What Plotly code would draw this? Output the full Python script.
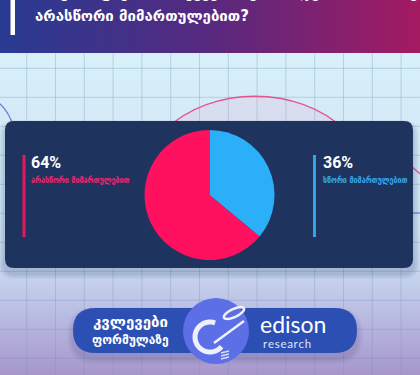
import base64
import numpy as np
import plotly.graph_objects as go

W, H = 420, 375

# ---------------- data ----------------
labels = ["სწორი მიმართულებით", "არასწორი მიმართულებით"]
values = [36, 64]
colors = ["#2aaff8", "#ff1160"]
title_lines = ["როგორ ფიქრობთ, ქვეყანა ვითარდება სწორი თუ",
               "არასწორი მიმართულებით?"]
logo_left = ["კვლევები", "ფორმულაზე"]
logo_right = ["edison", "research"]


def X(x):
    return x / W


def Y(y):
    return 1 - y / H


def rrect(x0, y0, x1, y1, r):
    p = f"M {X(x0 + r)} {Y(y0)} L {X(x1 - r)} {Y(y0)} "
    p += f"Q {X(x1)} {Y(y0)} {X(x1)} {Y(y0 + r)} L {X(x1)} {Y(y1 - r)} "
    p += f"Q {X(x1)} {Y(y1)} {X(x1 - r)} {Y(y1)} L {X(x0 + r)} {Y(y1)} "
    p += f"Q {X(x0)} {Y(y1)} {X(x0)} {Y(y1 - r)} L {X(x0)} {Y(y0 + r)} "
    p += f"Q {X(x0)} {Y(y0)} {X(x0 + r)} {Y(y0)} Z"
    return p


def poly(points, close=False):
    s = "M " + " L ".join(f"{X(a)} {Y(b)}" for a, b in points)
    return s + (" Z" if close else "")


svg = """<svg xmlns="http://www.w3.org/2000/svg" width="420" height="375" viewBox="0 0 420 375" preserveAspectRatio="none">
<defs>
<linearGradient id="bg" x1="0" y1="0" x2="0" y2="1">
<stop offset="0" stop-color="#d8f0fa"/>
<stop offset="0.55" stop-color="#cde2f2"/>
<stop offset="0.72" stop-color="#c3cfeb"/>
<stop offset="0.88" stop-color="#b3aedc"/>
<stop offset="1" stop-color="#a696ca"/>
</linearGradient>
<linearGradient id="hd" x1="0" y1="0" x2="1" y2="0">
<stop offset="0" stop-color="#283b93"/>
<stop offset="0.5" stop-color="#57297f"/>
<stop offset="1" stop-color="#a41a62"/>
</linearGradient>
</defs>
<rect x="0" y="53" width="420" height="322" fill="url(#bg)"/>
<rect x="0" y="0" width="420" height="53" fill="url(#hd)"/>
</svg>"""
src = "data:image/svg+xml;base64," + base64.b64encode(svg.encode()).decode()

shapes = []
grid = "rgba(120,150,190,0.35)"
for k in range(14):
    x = 26.7 + 28.8 * k
    shapes.append(dict(type="line", xref="paper", yref="paper", x0=X(x), x1=X(x),
                       y0=Y(53), y1=Y(375), line=dict(color=grid, width=1), layer="below"))
for k in range(11):
    y = 68.3 + 29 * k
    shapes.append(dict(type="line", xref="paper", yref="paper", x0=0, x1=1,
                       y0=Y(y), y1=Y(y), line=dict(color=grid, width=1), layer="below"))

# decorative curves
shapes.append(dict(type="path", xref="paper", yref="paper",
                   path=f"M {X(165)} {Y(130)} C {X(212)} {Y(85)} {X(298)} {Y(85)} {X(345)} {Y(130)} Z",
                   line=dict(color="#e2568f", width=1.3), fillcolor="rgba(240,130,175,0.13)", layer="below"))
shapes.append(dict(type="path", xref="paper", yref="paper",
                   path=f"M {X(-5)} {Y(100)} Q {X(8)} {Y(108)} {X(14)} {Y(128)}",
                   line=dict(color="#6b7fe0", width=1.3), layer="below"))
shapes.append(dict(type="path", xref="paper", yref="paper",
                   path=f"M {X(405)} {Y(160)} Q {X(415)} {Y(170)} {X(425)} {Y(178)}",
                   line=dict(color="#e2568f", width=1.3), layer="below"))
shapes.append(dict(type="line", xref="paper", yref="paper", x0=X(408), x1=X(420), y0=Y(213), y1=Y(213),
                   line=dict(color="#6b7fe0", width=1.2), layer="below"))

# panel shadow + panel
for i, a in enumerate([0.06, 0.07, 0.08]):
    d = 6 - 2 * i
    shapes.append(dict(type="path", xref="paper", yref="paper",
                       path=rrect(5 - d, 121 - d + 5, 413 + d, 268 + d + 5, 10 + d),
                       fillcolor=f"rgba(40,60,110,{a})", line=dict(width=0), layer="below"))
shapes.append(dict(type="path", xref="paper", yref="paper", path=rrect(5, 121, 413, 268, 9),
                   fillcolor="#1e345f", line=dict(width=0), layer="below"))

# side bars
shapes.append(dict(type="rect", xref="paper", yref="paper", x0=X(22.5), x1=X(25.5), y0=Y(155), y1=Y(237),
                   fillcolor="#e8185e", line=dict(width=0), layer="below"))
shapes.append(dict(type="rect", xref="paper", yref="paper", x0=X(313), x1=X(316), y0=Y(155), y1=Y(237),
                   fillcolor="#2ea6ea", line=dict(width=0), layer="below"))

# header white bar
shapes.append(dict(type="rect", xref="paper", yref="paper", x0=X(10.5), x1=X(15), y0=Y(0), y1=Y(35),
                   fillcolor="white", line=dict(width=0), layer="below"))

# logo pill shadow + pill + circle
for i, a in enumerate([0.05, 0.06, 0.07]):
    d = 6 - 2 * i
    shapes.append(dict(type="path", xref="paper", yref="paper",
                       path=rrect(73 - d, 308 - d + 5, 357 + d, 353 + d + 5, 22.5 + d),
                       fillcolor=f"rgba(50,50,110,{a})", line=dict(width=0), layer="below"))
shapes.append(dict(type="path", xref="paper", yref="paper", path=rrect(73, 308, 357, 353, 22.5),
                   fillcolor="#2c4fb4", line=dict(width=0), layer="below"))
shapes.append(dict(type="circle", xref="paper", yref="paper", x0=X(183), x1=X(249), y0=Y(298), y1=Y(364),
                   fillcolor="#5d6fe6", line=dict(width=0), layer="below"))

# logo icon (white swirl)
cx, cy, r = 210, 337, 15
th = np.radians(np.linspace(-70, -320, 60))
ring = [(cx + r * np.cos(t), cy + r * np.sin(t)) for t in th]
shapes.append(dict(type="path", xref="paper", yref="paper", path=poly(ring),
                   line=dict(color="#eef0fb", width=5), layer="below"))
ang = np.radians(-25)
tt = np.linspace(0, 2 * np.pi, 40)
ov = [(234 + 11 * np.cos(t) * np.cos(ang) - 4 * np.sin(t) * np.sin(ang),
       313 + 11 * np.cos(t) * np.sin(ang) + 4 * np.sin(t) * np.cos(ang)) for t in tt]
shapes.append(dict(type="path", xref="paper", yref="paper", path=poly(ov, True),
                   line=dict(color="#eef0fb", width=2.5), layer="below"))
shapes.append(dict(type="path", xref="paper", yref="paper",
                   path=poly([(214, 343), (244, 321)]),
                   line=dict(color="#eef0fb", width=2.5), layer="below"))
for dy in (0, 3, 6):
    shapes.append(dict(type="line", xref="paper", yref="paper", x0=X(221), x1=X(229),
                       y0=Y(353 + dy), y1=Y(351 + dy), line=dict(color="#d8dcf5", width=1.5), layer="below"))

# ---------------- figure ----------------
fig = go.Figure()
cxp, cyp, rp = 209.5, 195, 65
fig.add_trace(go.Pie(
    labels=labels, values=values, sort=False, direction="clockwise", rotation=0,
    marker=dict(colors=colors, line=dict(width=0)), textinfo="none", hoverinfo="none",
    showlegend=False,
    domain=dict(x=[X(cxp - rp), X(cxp + rp)], y=[Y(cyp + rp), Y(cyp - rp)]),
))

ann = []
geo = "DejaVu Sans"
ann.append(dict(text=f"<b>{title_lines[0]}</b>", x=X(33), y=Y(4), xanchor="left", yanchor="bottom",
                font=dict(family=geo, size=15, color="white")))
ann.append(dict(text=f"<b>{title_lines[1]}</b>", x=X(33), y=Y(27), xanchor="left", yanchor="bottom",
                font=dict(family=geo, size=15, color="white")))

# percentages + labels
ann.append(dict(text=f"<b>{values[1]}%</b>", x=X(29), y=Y(174), xanchor="left", yanchor="bottom",
                font=dict(family="Roboto", size=16, color="white")))
ann.append(dict(text=f"<b>{labels[1]}</b>", x=X(29), y=Y(187), xanchor="left", yanchor="bottom",
                font=dict(family="DejaVu Sans Condensed", size=8, color="#e82a72")))
ann.append(dict(text=f"<b>{values[0]}%</b>", x=X(321), y=Y(174), xanchor="left", yanchor="bottom",
                font=dict(family="Roboto", size=16, color="white")))
ann.append(dict(text=f"<b>{labels[0]}</b>", x=X(321), y=Y(187), xanchor="left", yanchor="bottom",
                font=dict(family="DejaVu Sans Condensed", size=8, color="#3aa8ee")))

# logo text
ann.append(dict(text=f"<b>{logo_left[0]}</b>", x=X(130), y=Y(321.5), xanchor="center", yanchor="middle",
                font=dict(family=geo, size=15, color="white")))
ann.append(dict(text=f"<b>{logo_left[1]}</b>", x=X(130), y=Y(339.5), xanchor="center", yanchor="middle",
                font=dict(family=geo, size=12, color="white")))
ann.append(dict(text=logo_right[0], x=X(258), y=Y(324), xanchor="left", yanchor="middle",
                font=dict(family="Lato", size=23, color="white")))
ann.append(dict(text="\u200a".join(logo_right[1]), x=X(261), y=Y(343), xanchor="left", yanchor="middle",
                font=dict(family="Lato", size=11.5, color="#dfe6fa")))

for a in ann:
    a.update(xref="paper", yref="paper", showarrow=False)

fig.update_layout(
    width=W, height=H, autosize=False,
    margin=dict(l=0, r=0, t=0, b=0, pad=0),
    paper_bgcolor="#d8f0fa", plot_bgcolor="rgba(0,0,0,0)",
    images=[dict(source=src, xref="paper", yref="paper", x=0, y=1, sizex=1, sizey=1,
                 xanchor="left", yanchor="top", sizing="stretch", layer="below")],
    shapes=shapes, annotations=ann,
)
fig.write_html("out.html")
